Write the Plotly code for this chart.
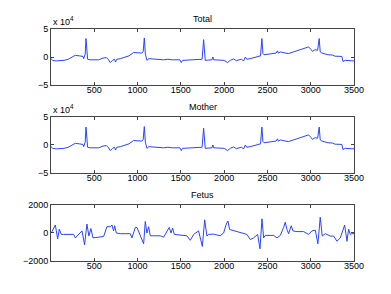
import plotly.graph_objects as go

# ---- data (samples, values) ----
total_x = [0, 20, 60, 150, 200, 250, 280, 330, 370, 377, 385, 395, 404, 412, 423, 450, 550, 600, 640,
           665, 685, 710, 735, 745, 760, 800, 900, 955, 1000, 1050, 1065, 1078, 1090, 1108, 1130, 1200,
           1300, 1350, 1400, 1490, 1505, 1520, 1600, 1700, 1745, 1763, 1775, 1782, 1860, 1870, 1880, 1950,
           2000, 2040, 2070, 2109, 2140, 2200, 2225, 2245, 2260, 2300, 2380, 2420, 2436, 2448, 2460, 2550,
           2600, 2617, 2625, 2650, 2700, 2740, 2800, 2900, 2975, 3000, 3020, 3050, 3080, 3098, 3110, 3130,
           3200, 3250, 3280, 3360, 3372, 3400, 3450, 3500]
total_y = [-0.3, -0.6, -0.7, -0.6, -0.4, 0.0, 0.3, 0.2, 0.1, -0.3, 0.2, 0.5, 3.3, 1.0, -0.4, -0.5, -0.5,
           -0.2, -0.1, -0.5, -1.0, -0.6, -0.4, -0.9, -0.4, -0.3, 0.2, 0.8, 0.8, 0.7, 1.0, 3.4, 0.5, -0.6,
           -0.3, -0.4, -0.5, -0.4, -0.5, -0.5, -1.0, -0.6, -0.5, -0.5, -0.4, 3.1, 0.5, -0.6, -0.5, 0.0,
           -0.5, -0.5, -0.6, -1.0, -0.6, -0.35, -0.65, -0.4, -0.7, 0.0, -0.4, -0.3, 0.0, 0.2, 3.3, 0.6,
           0.4, 0.65, 0.7, 1.1, 0.7, 0.9, 0.8, 0.6, 0.9, 1.4, 1.8, 1.4, 1.0, 1.3, 1.2, 3.3, 0.9, 0.7, 0.4,
           0.35, 0.15, 0.1, -0.8, -0.6, -0.6, -0.7]

mother_x = total_x
mother_y = [-0.3, -0.6, -0.7, -0.6, -0.4, 0.0, 0.3, 0.2, 0.1, -0.3, 0.2, 0.5, 3.2, 1.0, -0.4, -0.5, -0.5,
            -0.2, -0.1, -0.5, -1.0, -0.6, -0.4, -0.9, -0.4, -0.3, 0.2, 0.8, 0.8, 0.7, 1.0, 3.3, 0.5, -0.6,
            -0.3, -0.4, -0.5, -0.4, -0.5, -0.5, -1.0, -0.6, -0.5, -0.5, -0.4, 3.0, 0.5, -0.6, -0.5, 0.0,
            -0.5, -0.5, -0.6, -1.0, -0.6, -0.35, -0.65, -0.4, -0.7, 0.0, -0.4, -0.3, 0.0, 0.2, 3.2, 0.6,
            0.4, 0.65, 0.7, 1.1, 0.7, 0.9, 0.8, 0.6, 0.9, 1.4, 1.8, 1.4, 1.0, 1.3, 1.2, 3.2, 0.9, 0.7, 0.4,
            0.35, 0.15, 0.1, -0.8, -0.6, -0.6, -0.7]

fetus_x = [0, 11, 50, 77, 96, 119, 146, 262, 281, 339, 358, 388, 415, 438, 461, 485, 531, 608, 646, 685,
           704, 723, 735, 754, 800, 916, 935, 955, 974, 993, 1070, 1089, 1108, 1128, 1147, 1185, 1262,
           1301, 1340, 1366, 1386, 1405, 1424, 1455, 1570, 1609, 1648, 1705, 1748, 1775, 1801, 1821, 1878,
           1955, 1994, 2025, 2044, 2063, 2090, 2109, 2186, 2263, 2302, 2340, 2387, 2414, 2437, 2456, 2475,
           2533, 2572, 2610, 2649, 2687, 2706, 2725, 2745, 2775, 2795, 2841, 2918, 2976, 3014, 3053, 3083,
           3110, 3133, 3168, 3226, 3265, 3303, 3342, 3372, 3392, 3419, 3438, 3457, 3476, 3500]
fetus_y = [0, 100, 570, -420, 270, -100, -100, -100, -350, 0, 150, -840, 640, -220, 320, -350, -300, -250,
           450, 450, 570, 150, 520, 0, -50, -50, -350, 0, 400, 400, -770, 820, 0, 450, -200, -200, -200,
           -300, 150, 400, 0, 350, -100, -120, -200, -520, -100, 150, -960, 940, -220, -100, -80, -200,
           0, 640, 860, 250, 200, 150, 0, -100, -470, -350, -100, -1130, 1010, -350, -170, -170, -170,
           -350, -170, 400, 770, 250, -50, 520, 150, 100, 100, -100, 150, 200, -770, 1130, -220, -50,
           -220, -220, -590, -350, 270, 570, -590, 270, -100, -50, -50]

titles = ["Total", "Mother", "Fetus"]
x_ticks = [500, 1000, 1500, 2000, 2500, 3000, 3500]
y_ticks_top = [-5, 0, 5]
y_ticks_fetus = [-2000, 0, 2000]

FONT = "Liberation Sans, Arial, sans-serif"
LINE = "#2a44ff"

fig = go.Figure()
fig.add_trace(go.Scatter(x=total_x, y=total_y, mode="lines", line=dict(color=LINE, width=1),
                         xaxis="x", yaxis="y", showlegend=False))
fig.add_trace(go.Scatter(x=mother_x, y=mother_y, mode="lines", line=dict(color=LINE, width=1),
                         xaxis="x2", yaxis="y2", showlegend=False))
fig.add_trace(go.Scatter(x=fetus_x, y=fetus_y, mode="lines", line=dict(color=LINE, width=1),
                         xaxis="x3", yaxis="y3", showlegend=False))

domains = [[0.7586, 1.0], [0.3793, 0.6207], [0.0, 0.2414]]
common = dict(showgrid=False, zeroline=False, showline=True, linecolor="#444", linewidth=1,
              mirror="ticks", ticks="inside", ticklen=3, tickcolor="#444",
              tickfont=dict(family=FONT, size=9, color="#000"))

layout = dict(width=391, height=294, margin=dict(l=51, r=37, t=29, b=33),
              paper_bgcolor="white", plot_bgcolor="white", font=dict(family=FONT, size=9))
for i in range(3):
    s = "" if i == 0 else str(i + 1)
    layout["xaxis" + s] = dict(common, domain=[0, 1], range=[0, 3500], tickvals=x_ticks,
                               anchor="y" + s, ticklabelstandoff=-4)
    if i < 2:
        layout["yaxis" + s] = dict(common, domain=domains[i], range=[-5, 5], tickvals=y_ticks_top,
                                   anchor="x" + s)
    else:
        layout["yaxis" + s] = dict(common, domain=domains[i], range=[-2000, 2000],
                                   tickvals=y_ticks_fetus, anchor="x" + s)
fig.update_layout(**layout)

ann = []
for i, t in enumerate(titles):
    ann.append(dict(text=t, xref="paper", yref="paper", x=0.5, y=domains[i][1], xanchor="center",
                    yanchor="bottom", yshift=3, showarrow=False,
                    font=dict(family=FONT, size=9, color="#000")))
for i in range(2):
    ann.append(dict(text="x 10<sup>4</sup>", xref="paper", yref="paper", x=0, y=domains[i][1],
                    xanchor="left", yanchor="bottom", yshift=0, showarrow=False,
                    font=dict(family=FONT, size=9, color="#000")))
fig.update_layout(annotations=ann)

fig.write_html("out.html", config={"displayModeBar": False},
               post_script="document.body.style.margin='0';document.body.style.overflow='hidden';")
